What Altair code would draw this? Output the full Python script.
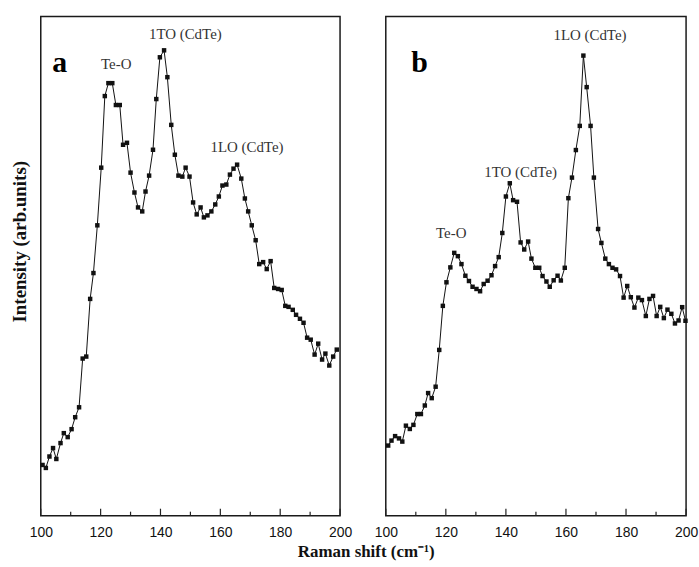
import altair as alt
import pandas as pd

# ---------------- data ----------------
shift_a = [100.6,101.7,102.9,104.1,105.2,106.6,107.7,109.0,110.3,111.5,
           112.8,114.0,115.2,116.5,117.6,118.9,120.2,121.4,122.6,123.9,
           125.1,126.4,127.5,128.8,130.0,131.3,132.5,133.9,135.0,136.2,
           137.5,138.6,139.8,141.2,142.3,143.6,144.8,146.0,147.3,148.4,
           149.7,150.9,152.1,153.4,154.5,155.7,157.0,158.3,159.5,160.7,
           162.0,163.2,164.4,165.6,167.0,168.2,169.3,170.5,171.8,173.0,
           174.3,175.5,176.8,178.0,179.3,180.5,181.7,182.8,184.2,185.3,
           186.6,187.8,189.0,190.2,191.5,192.7,194.0,195.1,196.4,197.7,198.9]
int_a = [48,45,56.5,65,54,70,80,76,84,96,
         106,155,157,215,241,289,347,419,432,432,
         410,410,370,372,342,322,307,303,323,339,
         365,416,458,465,438,390,360,339,338,347,
         338,312,300,307,297,299,303,310,318,329,
         330,340,346,350,336,316,303,289,274,250,
         252,245,253,226,225,224,208,207,204,199,
         195,191,176,174,159,170,154,160,148,157,164]

shift_b = [100.8,101.9,103.1,104.4,105.5,106.7,108.0,109.2,110.5,111.7,
           113.0,114.1,115.3,116.6,117.8,119.0,120.2,121.5,122.8,124.0,
           125.2,126.5,127.7,128.9,130.2,131.4,132.6,133.9,135.2,136.4,
           137.6,138.8,140.0,141.3,142.4,143.7,144.9,146.1,147.4,148.5,
           149.8,151.1,152.2,153.5,154.6,155.9,157.2,158.3,159.6,160.8,
           162.0,163.3,164.6,165.8,166.9,168.2,169.3,170.7,171.8,173.1,
           174.3,175.5,176.7,178.0,179.2,180.4,181.6,182.8,184.1,185.3,
           186.6,187.8,189.0,190.2,191.4,192.6,193.8,195.1,196.3,197.5,198.7,199.8]
int_b = [67.5,72.5,77,74.7,71.5,87.5,84.2,88.3,99.2,99.2,
         107.8,120.3,115.2,126.7,163.7,208,231.7,246.7,261.3,258,
         250,238.3,233,227.2,225,222.7,230,233.3,238.8,248,
         257,281.3,318,331.3,314.3,312.7,271.8,264.7,272.7,255.5,
         246.3,246.3,238,232.5,227.2,233.7,238.3,233.5,246.3,316.3,
         337,364.7,389,459.7,428,389,337,285.3,271.3,255.5,
         250,246.3,244.7,238,216.3,228,216.7,206.3,216.3,213.8,
         197.8,215,218,197.8,207,195.7,204.2,200,190.3,193.3,206.7,193]

major_ticks = [100, 120, 140, 160, 180, 200]
minor_ticks = [110, 130, 150, 170, 190]

peaks_a_text = ["Te-O", "1TO (CdTe)", "1LO (CdTe)"]
peaks_a_x = [125.2, 148.3, 168.9]
peaks_a_y = [451, 481, 368]

peaks_b_text = ["Te-O", "1TO (CdTe)", "1LO (CdTe)"]
peaks_b_x = [121.8, 144.9, 168.0]
peaks_b_y = [281, 343, 480]

letter_a = ("a", 106.3, 452)
letter_b = ("b", 111.2, 452)

# ---------------- styling ----------------
PANEL_H = 502
SERIF = "Liberation Serif"
SANS = "Liberation Sans"


def panel(shift, inten, ptext, px, py, letter, width, y_title):
    df = pd.DataFrame({"shift": shift, "intensity": inten})
    pk = pd.DataFrame({"shift": px, "intensity": py, "label": ptext})
    lt = pd.DataFrame({"shift": [letter[1]], "intensity": [letter[2]], "label": [letter[0]]})
    mj = pd.DataFrame({"shift": major_ticks})
    mn = pd.DataFrame({"shift": minor_ticks})

    x = alt.X("shift:Q",
              scale=alt.Scale(domain=[100, 200], nice=False, zero=False),
              axis=alt.Axis(values=major_ticks, ticks=False, domain=False, grid=False,
                            title=None, labelFont=SANS, labelFontSize=14,
                            labelColor="#111", labelPadding=10, labelOverlap=False,
                            labelFlush=False))
    if y_title:
        yaxis = alt.Axis(title="Intensity (arb.units)", labels=False, ticks=False,
                         domain=False, grid=False, titleFont=SERIF, titleFontSize=19,
                         titleFontWeight="bold", titleColor="#111", titlePadding=11,
                         titleY=226)
    else:
        yaxis = None
    y = alt.Y("intensity:Q", scale=alt.Scale(domain=[-3, 499], nice=False, zero=False),
              axis=yaxis)

    line = alt.Chart(df).mark_line(color="#111", strokeWidth=1).encode(x=x, y=y)
    pts = alt.Chart(df).mark_square(color="#111", size=20, opacity=1).encode(x=x, y=y)
    txt = alt.Chart(pk).mark_text(font=SERIF, fontSize=15, color="#333",
                                  align="center", baseline="middle").encode(
        x=x, y=y, text="label:N")
    let = alt.Chart(lt).mark_text(font=SERIF, fontSize=30, fontWeight="bold",
                                  color="#000", align="center", baseline="middle").encode(
        x=x, y=y, text="label:N")
    tmaj = alt.Chart(mj).mark_rule(color="#222", strokeWidth=1.2).encode(
        x=x, y=alt.value(PANEL_H), y2=alt.value(PANEL_H - 7))
    tmin = alt.Chart(mn).mark_rule(color="#222", strokeWidth=1.2).encode(
        x=x, y=alt.value(PANEL_H), y2=alt.value(PANEL_H - 4))
    return alt.layer(line, pts, txt, let, tmaj, tmin).properties(width=width, height=PANEL_H)


pa = panel(shift_a, int_a, peaks_a_text, peaks_a_x, peaks_a_y, letter_a, 301, True)
pb = panel(shift_b, int_b, peaks_b_text, peaks_b_x, peaks_b_y, letter_b, 302, False)

chart = alt.hconcat(pa, pb, spacing=20).properties(
    title=alt.TitleParams("Raman shift (cm\u207b\u00b9)", orient="bottom", anchor="middle",
                          font=SERIF, fontSize=17, fontWeight="bold", color="#111",
                          offset=4, dx=12),
    padding={"left": 10, "top": 14, "right": 0, "bottom": 3},
    background="white",
).configure_view(stroke="#1a1a1a", strokeWidth=1.5)

chart.save("out.html", embed_options={"renderer": "svg", "actions": False})
